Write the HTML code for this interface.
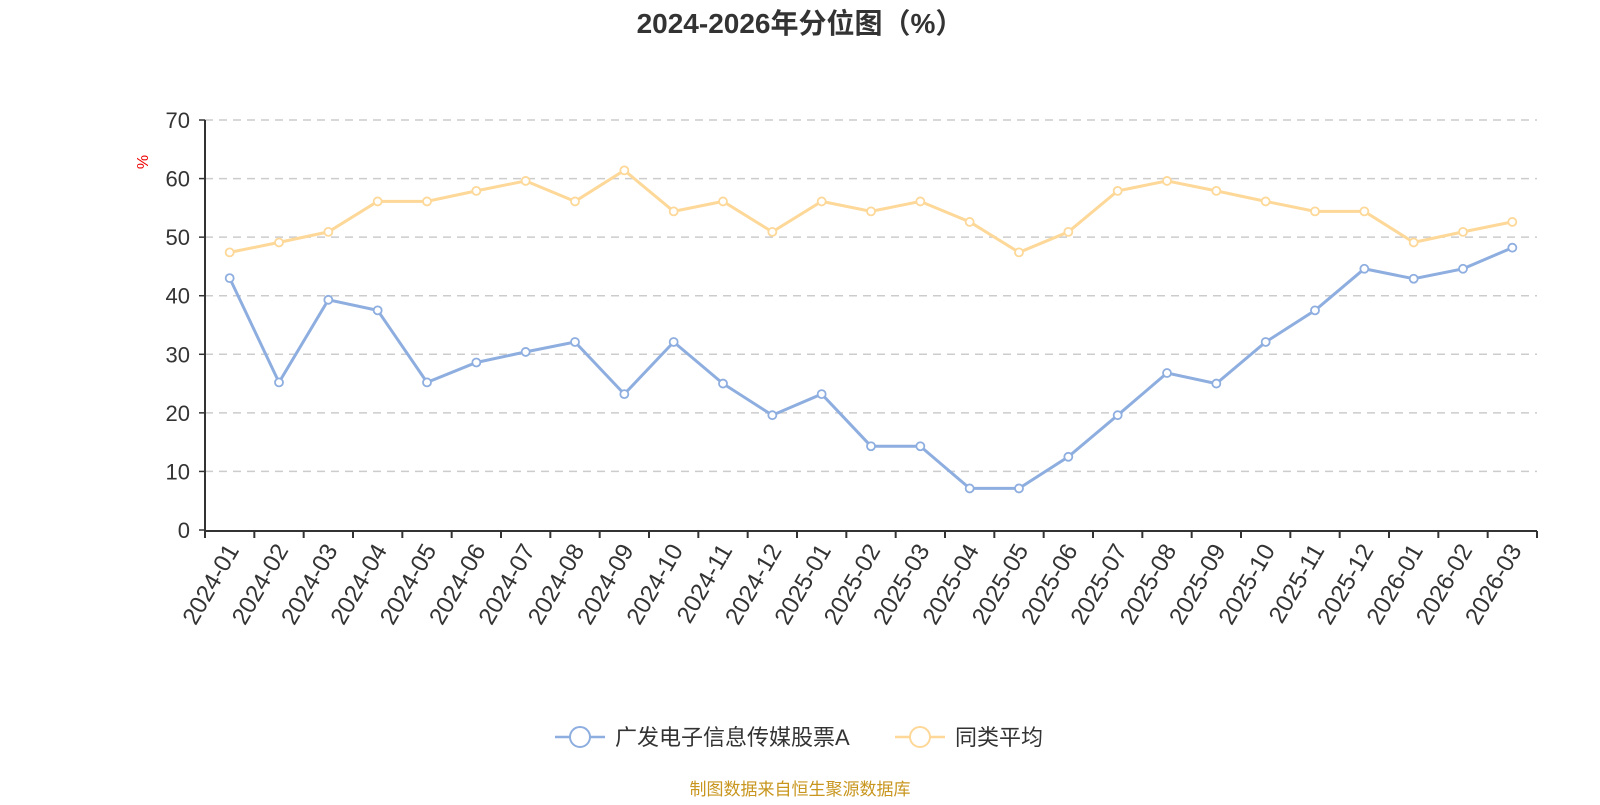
<!DOCTYPE html>
<html><head><meta charset="utf-8"><style>
body{margin:0;background:#fff;width:1600px;height:800px;overflow:hidden}
svg{font-family:"Liberation Sans","Noto Sans CJK SC",sans-serif}
</style></head><body>
<svg id="s" width="1600" height="800" xmlns="http://www.w3.org/2000/svg">
<text x="800" y="33" text-anchor="middle" font-size="28" font-weight="bold" fill="#333">2024-2026年分位图（%）</text>
<text x="148" y="162" font-size="16" fill="#e00" transform="rotate(-90 148 162)" text-anchor="middle">%</text>
<g id="g"></g>
<g transform="translate(570,737)">
<line x1="-15" y1="0" x2="35" y2="0" stroke="#8eaee0" stroke-width="2.5"/>
<circle cx="10" cy="0" r="10" fill="#fff" stroke="#8eaee0" stroke-width="2"/>
<text x="45" y="8" font-size="22" fill="#333">广发电子信息传媒股票A</text>
<line x1="325" y1="0" x2="375" y2="0" stroke="#fdd898" stroke-width="2.5"/>
<circle cx="350" cy="0" r="10" fill="#fff" stroke="#fdd898" stroke-width="2"/>
<text x="385" y="8" font-size="22" fill="#333">同类平均</text>
</g>
<text x="800" y="795" text-anchor="middle" font-size="17" fill="#c8961e">制图数据来自恒生聚源数据库</text>
</svg>
<script>
var g=document.getElementById('g'),h='';
var x0=205,x1=1537,n=27,w=(x1-x0)/n;
function Y(v){return 530-v*5.857;}
for(var v=0;v<=70;v+=10){var y=Y(v);
 if(v>0)h+='<line x1="'+x0+'" y1="'+y+'" x2="'+x1+'" y2="'+y+'" stroke="#ccc" stroke-width="1.5" stroke-dasharray="8,6"/>';
 h+='<line x1="199" y1="'+y+'" x2="205" y2="'+y+'" stroke="#333" stroke-width="1.5"/>';
 h+='<text x="190" y="'+(y+8)+'" text-anchor="end" font-size="22" fill="#333">'+v+'</text>';}
h+='<line x1="205" y1="120" x2="205" y2="531" stroke="#333" stroke-width="2"/>';
h+='<line x1="205" y1="531" x2="1537" y2="531" stroke="#333" stroke-width="2"/>';
var labs=[];for(var yr=2024;yr<=2026;yr++)for(var m=1;m<=12;m++){if(yr==2026&&m>3)break;labs.push(yr+'-'+(m<10?'0':'')+m);}
for(var i=0;i<=n;i++){var x=x0+i*w;h+='<line x1="'+x+'" y1="531" x2="'+x+'" y2="538" stroke="#333" stroke-width="2"/>';}
for(var i=0;i<n;i++){var x=x0+(i+0.5)*w+10;h+='<text x="'+x+'" y="550" text-anchor="end" font-size="24" fill="#333" transform="rotate(-60 '+x+' 550)">'+labs[i]+'</text>';}
var A=[43,25.2,39.3,37.5,25.2,28.6,30.4,32.1,23.2,32.1,25,19.6,23.2,14.3,14.3,7.1,7.1,12.5,19.6,26.8,25,32.1,37.5,44.6,42.9,44.6,48.2];
var B=[47.4,49.1,50.9,56.1,56.1,57.9,59.6,56.1,61.4,54.4,56.1,50.9,56.1,54.4,56.1,52.6,47.4,50.9,57.9,59.6,57.9,56.1,54.4,54.4,49.1,50.9,52.6];
function ser(d,c){var p=d.map(function(v,i){return (x0+(i+0.5)*w).toFixed(1)+','+Y(v).toFixed(1)}).join(' ');
 var s='<polyline points="'+p+'" fill="none" stroke="'+c+'" stroke-width="3"/>';
 d.forEach(function(v,i){s+='<circle cx="'+(x0+(i+0.5)*w)+'" cy="'+Y(v)+'" r="4" fill="#fff" stroke="'+c+'" stroke-width="1.8"/>';});return s;}
h+=ser(B,'#fdd898')+ser(A,'#8eaee0');
g.innerHTML=h;
</script>
</body></html>
